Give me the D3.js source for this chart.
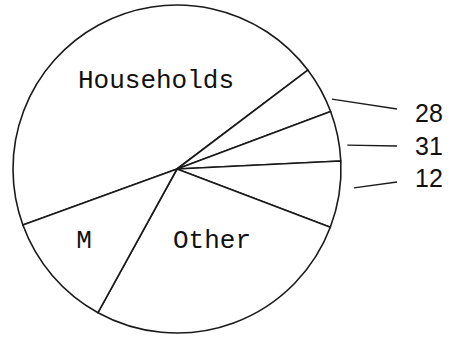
<!DOCTYPE html>
<html><head><meta charset="utf-8">
<script src="https://cdn.jsdelivr.net/npm/d3@7"></script>
<style>body{margin:0;background:#fff}svg{display:block}</style>
</head><body>
<script>
// Data (slice sizes, in degrees of arc)
const categories = ["Households", "28", "31", "12", "Other", "M"];
const values = [162.9, 16.6, 17.7, 23.6, 98.0, 41.2];
const insideLabels = ["Households", "", "", "", "Other", "M"];
const outsideLabels = ["", "28", "31", "12", "", ""];

const W = 457, H = 339;
const cx = 177, cy = 169, R = 164;
const deg = Math.PI / 180;

const svg = d3.select("body").append("svg").attr("width", W).attr("height", H);
const g = svg.append("g").attr("transform", `translate(${cx},${cy})`);

const rows = categories.map((c, i) => ({cat: c, value: values[i], inside: insideLabels[i], outside: outsideLabels[i]}));
const pie = d3.pie().value(d => d.value).sort(null)
  .startAngle(250 * deg).endAngle(610 * deg);
const arcs = pie(rows);
const arc = d3.arc().innerRadius(0).outerRadius(R);

g.selectAll("path.slice").data(arcs).join("path")
  .attr("class", "slice")
  .attr("d", arc)
  .attr("fill", "#fff")
  .attr("stroke", "#1a1a1a")
  .attr("stroke-width", 1.6)
  .attr("stroke-linejoin", "round");

// inside labels
const insidePos = {Households: [-21, -81], Other: [35, 79], M: [-93, 79]};
g.selectAll("text.in").data(arcs.filter(d => d.data.inside)).join("text")
  .attr("class", "in")
  .attr("x", d => insidePos[d.data.cat][0])
  .attr("y", d => insidePos[d.data.cat][1])
  .attr("text-anchor", "middle")
  .attr("font-family", "Liberation Mono, monospace")
  .attr("font-size", 26)
  .attr("fill", "#111")
  .text(d => d.data.inside);

// outside labels with leader lines
const leader = {"28": {a: 65.7, r: 170, y: 122, ly: 109},
                "31": {a: 82.0, r: 172, y: 155, ly: 146},
                "12": {a: 96.1, r: 178, y: 187, ly: 182}};
const outs = arcs.filter(d => d.data.outside);
g.selectAll("line.lead").data(outs).join("line")
  .attr("class", "lead")
  .attr("x1", d => leader[d.data.cat].r * Math.sin(leader[d.data.cat].a * deg))
  .attr("y1", d => -leader[d.data.cat].r * Math.cos(leader[d.data.cat].a * deg))
  .attr("x2", 397 - cx)
  .attr("y2", d => leader[d.data.cat].ly - cy)
  .attr("stroke", "#1a1a1a")
  .attr("stroke-width", 1.3);
g.selectAll("text.out").data(outs).join("text")
  .attr("class", "out")
  .attr("x", 415 - cx)
  .attr("y", d => leader[d.data.cat].y - cy)
  .attr("font-family", "Liberation Sans, Arial, sans-serif")
  .attr("font-size", 25)
  .attr("fill", "#111")
  .text(d => d.data.outside);
</script>
</body></html>
